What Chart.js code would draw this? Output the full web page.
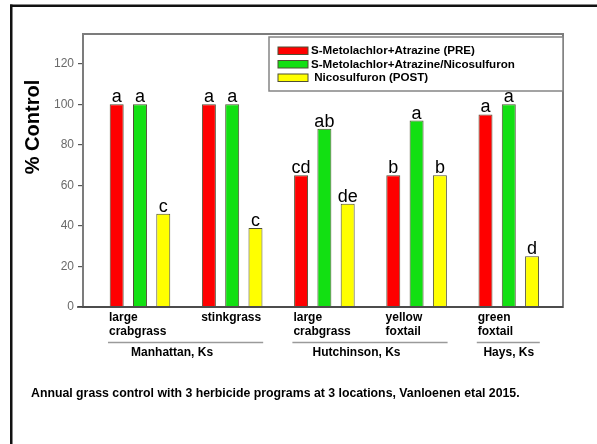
<!DOCTYPE html>
<html>
<head>
<meta charset="utf-8">
<script src="https://cdn.jsdelivr.net/npm/chart.js@4"></script>
<style>
  html, body { margin: 0; padding: 0; background: #fff; }
  canvas { display: block; }
</style>
</head>
<body>
<canvas id="grafico" width="597" height="444"></canvas>
<script>
// DADOS
const categorias = [
  ["large", "crabgrass"],
  ["stinkgrass"],
  ["large", "crabgrass"],
  ["yellow", "foxtail"],
  ["green", "foxtail"],
];
const locais = ["Manhattan, Ks", "Hutchinson, Ks", "Hays, Ks"];
const localInicio = [0, 2, 4];
const localFim = [1, 3, 4];

const nomes = [
  "S-Metolachlor+Atrazine (PRE)",
  "S-Metolachlor+Atrazine/Nicosulfuron",
  " Nicosulfuron (POST)",
];
const pre = [100, 100, 65, 65, 95];
const prePost = [100, 100, 88, 92, 100];
const post = [46, 39, 51, 65, 25];

const letrasPre = ["a", "a", "cd", "b", "a"];
const letrasPrePost = ["a", "a", "ab", "a", "a"];
const letrasPost = ["c", "c", "de", "b", "d"];

const ticksY = [0, 20, 40, 60, 80, 100, 120];
const titulo = "Annual grass control with 3 herbicide programs at 3 locations, Vanloenen etal 2015.";

// CORES
const cores = ["#ff0000", "#12e012", "#ffff00"];
const borda = "#4f4f33";
const FONTE = "'Liberation Sans', Arial, sans-serif";

function serie(valores) {
  return valores.map((v, i) => ({ x: i, y: v }));
}

// moldura, caixa do gráfico, legenda e textos extras
const extras = {
  id: "extras",
  beforeDraw(chart) {
    const c = chart.ctx;
    c.save();
    c.fillStyle = "#111";
    c.fillRect(10, 4.5, 587, 2.5);
    c.fillRect(10, 4.5, 2.5, 440);
    c.restore();
  },
  afterDatasetsDraw(chart) {
    const c = chart.ctx;
    const a = chart.chartArea;
    const x = chart.scales.x;

    // letras das médias
    const letras = [letrasPre, letrasPrePost, letrasPost];
    c.save();
    c.fillStyle = "#000";
    c.font = "18px " + FONTE;
    c.textAlign = "center";
    c.textBaseline = "alphabetic";
    letras.forEach((lista, d) => {
      chart.getDatasetMeta(d).data.forEach((bar, i) => {
        c.fillText(lista[i], bar.x, bar.y - 2);
      });
    });
    c.restore();

    // caixa
    c.save();
    c.strokeStyle = "#7c7c7c";
    c.lineWidth = 2;
    c.strokeRect(a.left, a.top, a.right - a.left, a.bottom - a.top);
    c.strokeStyle = "#3c3c3c";
    c.lineWidth = 1.5;
    c.beginPath();
    c.moveTo(a.left - 6, a.bottom);
    c.lineTo(a.right, a.bottom);
    c.stroke();
    c.restore();

    // legenda
    const lx = 269, ly = 37, lw = a.right - 269, lh = 54;
    c.save();
    c.fillStyle = "#fff";
    c.fillRect(lx, ly, lw, lh);
    c.strokeStyle = "#858585";
    c.lineWidth = 1.5;
    c.strokeRect(lx, ly, lw, lh);
    c.font = "bold 11.6px " + FONTE;
    c.textBaseline = "middle";
    c.textAlign = "left";
    nomes.forEach((nome, i) => {
      const yy = 50.5 + i * 13.5;
      c.fillStyle = cores[i];
      c.fillRect(278, yy - 3.5, 30, 7.5);
      c.strokeStyle = borda;
      c.lineWidth = 1;
      c.strokeRect(278, yy - 3.5, 30, 7.5);
      c.fillStyle = "#000";
      c.fillText(nome, 311, yy + 0.5);
    });
    c.restore();

    // título do eixo Y
    c.save();
    c.translate(33, 127);
    c.rotate(-Math.PI / 2);
    c.font = "bold 20px " + FONTE;
    c.fillStyle = "#000";
    c.textAlign = "center";
    c.textBaseline = "middle";
    c.fillText("% Control", 0, 0);
    c.restore();

    // locais
    c.save();
    c.font = "bold 12px " + FONTE;
    c.fillStyle = "#000";
    c.textAlign = "center";
    c.textBaseline = "alphabetic";
    locais.forEach((nome, k) => {
      const p0 = x.getPixelForValue(localInicio[k]);
      const p1 = x.getPixelForValue(localFim[k]);
      c.strokeStyle = "#9a9a9a";
      c.lineWidth = 1.5;
      c.beginPath();
      c.moveTo(p0 - 32, 342.5);
      c.lineTo(p1 + 31, 342.5);
      c.stroke();
      const meio = (p0 + p1) / 2 - 14 * (localFim[k] - localInicio[k]);
      c.fillText(nome, meio, 355.5);
    });
    c.font = "bold 12.3px " + FONTE;
    c.textAlign = "left";
    c.fillText(titulo, 31, 396.5);
    c.restore();
  },
};

const ctx = document.getElementById("grafico");

const grafico = new Chart(ctx, {
  type: "bar",
  data: {
    datasets: [pre, prePost, post].map((valores, i) => ({
      label: nomes[i],
      data: serie(valores),
      backgroundColor: cores[i],
      borderColor: borda,
      borderWidth: 1,
      borderSkipped: "bottom",
      categoryPercentage: 0.758,
      barPercentage: 0.6,
    })),
  },
  options: {
    responsive: false,
    animation: false,
    layout: { padding: { left: 0, top: 34, right: 34, bottom: 97 } },
    plugins: {
      legend: { display: false },
      tooltip: { enabled: false },
    },
    scales: {
      x: {
        type: "linear",
        min: -0.618,
        max: 4.588,
        offset: false,
        grid: { display: false, offset: false },
        border: { display: false },
        afterBuildTicks: (s) => {
          s.ticks = categorias.map((_, i) => ({ value: i }));
        },
        afterFit: (s) => {
          s.height = 40;
        },
        ticks: {
          autoSkip: false,
          maxRotation: 0,
          align: "start",
          labelOffset: -31,
          padding: -4,
          color: "#000",
          font: { family: FONTE, size: 12, weight: "bold", lineHeight: 1.15 },
          callback: (v) => categorias[v] || "",
        },
      },
      y: {
        min: 0,
        max: 134.7,
        grid: {
          drawOnChartArea: false,
          tickLength: 5,
          color: "#555",
          lineWidth: 1.2,
        },
        border: { display: false },
        afterBuildTicks: (s) => {
          s.ticks = ticksY.map((v) => ({ value: v }));
        },
        afterFit: (s) => {
          s.width = 83;
        },
        ticks: {
          padding: 4,
          color: "#6a6a6a",
          font: { family: FONTE, size: 12 },
        },
      },
    },
  },
  plugins: [extras],
});
</script>
</body>
</html>
